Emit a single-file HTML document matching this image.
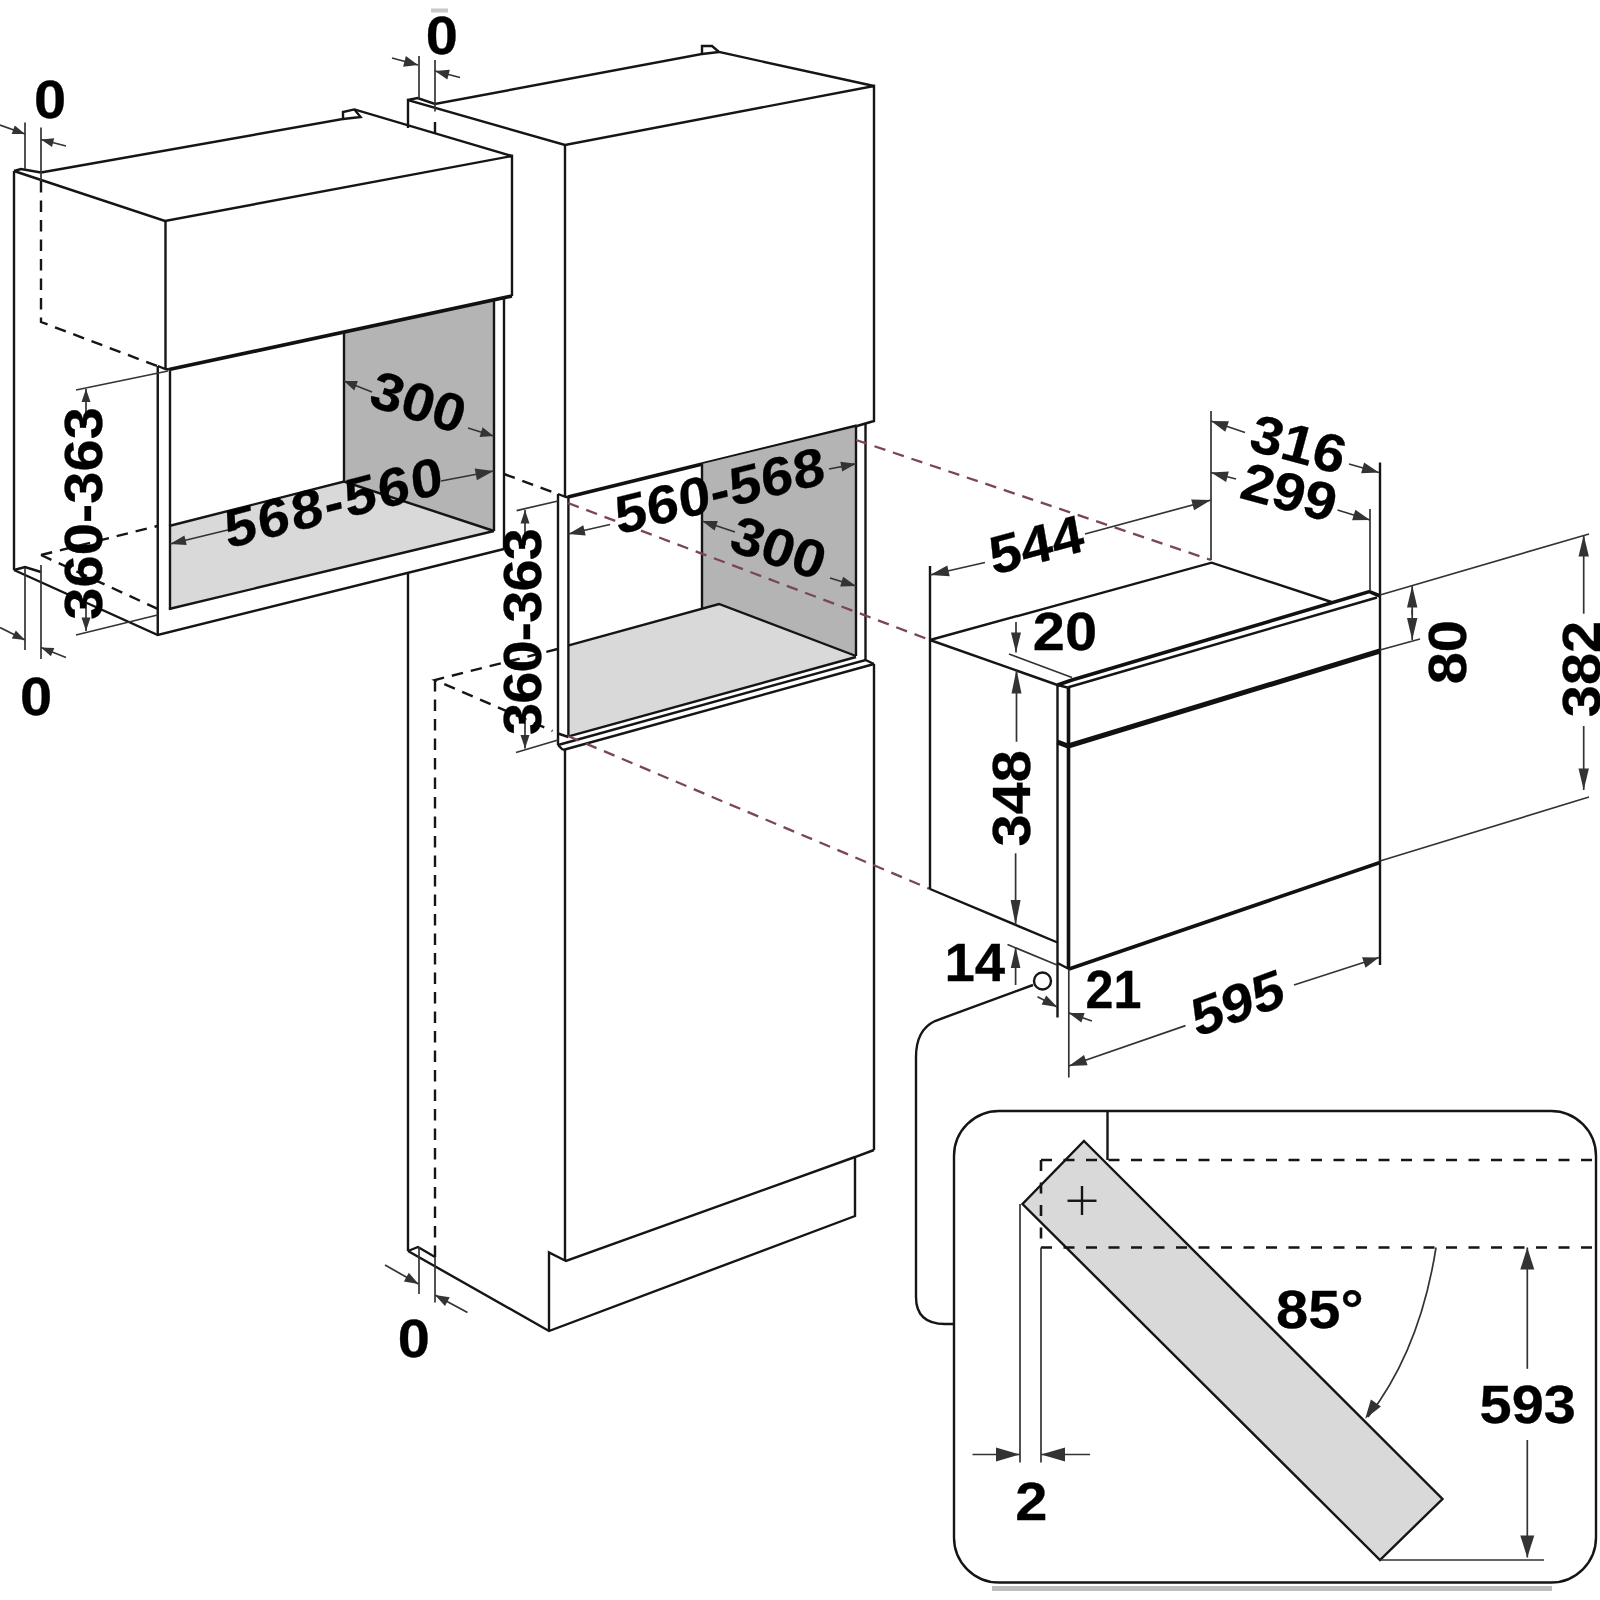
<!DOCTYPE html>
<html><head><meta charset="utf-8"><style>
html,body{margin:0;padding:0;background:#fff;}
svg{display:block;}
text{font-family:"Liberation Sans",sans-serif;font-weight:bold;fill:#000;stroke:#000;stroke-width:0.3;stroke-linejoin:round;}
.k{stroke:#151515;stroke-width:2.4;fill:none;stroke-linejoin:miter;}
.kt{stroke:#111;stroke-width:3.6;fill:none;}
.d{stroke:#333;stroke-width:1.7;fill:none;}
.dash{stroke:#151515;stroke-width:2.4;stroke-dasharray:11.5 8;fill:none;}
.dash2{stroke:#151515;stroke-width:2.6;stroke-dasharray:11 11.5;fill:none;}
.kb{stroke:#111;stroke-width:5;fill:none;}
.red{stroke:#7a4656;stroke-width:2.3;stroke-dasharray:11.5 8;fill:none;}
</style></head><body>
<svg width="1600" height="1600" viewBox="0 0 1600 1600">
<rect width="1600" height="1600" fill="#fff"/>
<polygon points="344,332 494,300 494,531 344,481.5" style="fill:#b4b4b4"/>
<polygon points="169,526 344,481.5 494,531 169,609" style="fill:#d9d9d9"/>
<line x1="14" y1="171" x2="14" y2="570" class="k"/>
<polyline points="14,171 165,221 512,156 512,296" class="k"/>
<polyline points="14,171 21,169 41,172.5" class="k"/>
<polyline points="41,172.5 343,119 343,112 354.4,109.4 512,156" class="k"/>
<polyline points="343,119 360.6,117 354.4,109.4" class="k"/>
<line x1="165.5" y1="221" x2="165.5" y2="369" class="k"/>
<line x1="169" y1="369.5" x2="512" y2="296" class="kt"/>
<line x1="157.75" y1="366" x2="157.75" y2="635" class="k"/>
<polyline points="157.75,366 165.5,369 169,369.5" class="k"/>
<line x1="170" y1="371" x2="170" y2="610" class="k"/>
<line x1="344" y1="332" x2="344" y2="481.5" class="k"/>
<line x1="494" y1="300" x2="494" y2="531" class="k"/>
<line x1="504" y1="298" x2="504" y2="549" class="k"/>
<polyline points="169,526 344,481.5 494,531" class="k"/>
<line x1="169" y1="609" x2="494" y2="531" class="k"/>
<polyline points="14,570 157.75,635 504,549" class="k"/>
<polyline points="14,570 25,567 41,572" class="k"/>
<polyline points="41,181 41,322 157,366" class="dash"/>
<polyline points="41,555 157.5,526" class="dash"/>
<polyline points="41,555 160,610" class="dash"/>
<line x1="25" y1="122.5" x2="25" y2="169" class="d"/>
<line x1="41" y1="127.5" x2="41" y2="181" class="d"/>
<line x1="0" y1="125" x2="25" y2="134" class="d"/>
<polygon points="25.0,134.0 11.7,134.0 14.8,125.5" fill="#333"/>
<line x1="66" y1="146" x2="41" y2="139.5" class="d"/>
<polygon points="41.0,139.5 54.2,138.3 52.0,147.0" fill="#333"/>
<line x1="25" y1="568" x2="25" y2="650" class="d"/>
<line x1="41" y1="565" x2="41" y2="659" class="d"/>
<line x1="0" y1="627.5" x2="25" y2="640" class="d"/>
<polygon points="25.0,640.0 11.8,638.4 15.8,630.4" fill="#333"/>
<line x1="66" y1="657.5" x2="41" y2="647.5" class="d"/>
<polygon points="41.0,647.5 54.3,648.0 50.9,656.3" fill="#333"/>
<line x1="76" y1="390" x2="168" y2="371" class="d"/>
<line x1="76" y1="635" x2="157.5" y2="615" class="d"/>
<line x1="86" y1="425" x2="86" y2="389" class="d"/>
<polygon points="86.0,389.0 90.5,402.0 81.5,402.0" fill="#333"/>
<line x1="86" y1="600" x2="86" y2="631" class="d"/>
<polygon points="86.0,631.0 81.5,617.5 90.5,617.5" fill="#333"/>
<line x1="372" y1="392" x2="344" y2="381" class="d"/>
<polygon points="344.0,381.0 357.9,381.1 354.3,390.4" fill="#333"/>
<line x1="468" y1="428" x2="493.5" y2="436" class="d"/>
<polygon points="493.5,436.0 479.6,436.9 482.6,427.3" fill="#333"/>
<line x1="240" y1="527" x2="170" y2="544" class="d"/>
<polygon points="170.0,544.0 184.4,535.4 186.7,545.1" fill="#333"/>
<line x1="441" y1="481" x2="493.5" y2="471" class="d"/>
<polygon points="493.5,471.0 476.9,480.3 474.7,468.5" fill="#333"/>
<polyline points="408,128 408,100 565,145 874,86 874,421 857,426" class="k"/>
<polyline points="408,100 417.5,98 435,104 702,54 702,46 712,46 719,52 874,86" class="k"/>
<polyline points="702,54 719,52" class="k"/>
<line x1="565" y1="145" x2="565" y2="496" class="k"/>
<line x1="568" y1="497" x2="857" y2="426" class="kt"/>
<line x1="419" y1="56" x2="419" y2="99" class="d"/>
<line x1="435" y1="60" x2="435" y2="111.5" class="d"/>
<line x1="435" y1="122" x2="435" y2="133" class="k"/>
<line x1="392" y1="58" x2="418" y2="65" class="d"/>
<polygon points="418.0,65.0 403.1,66.7 405.9,56.0" fill="#333"/>
<line x1="460" y1="77.5" x2="435" y2="71" class="d"/>
<polygon points="435.0,71.0 449.8,69.7 447.3,79.4" fill="#333"/>
<polygon points="702,464 856,427 856,656 719,604 702,608" style="fill:#b4b4b4"/>
<polygon points="568.7,645.4 719,604 856,656 568.7,736.4" style="fill:#d9d9d9"/>
<line x1="702" y1="464" x2="702" y2="608" class="k"/>
<polyline points="568.7,645.4 719,604 856,656" class="k"/>
<line x1="568.7" y1="736.4" x2="856" y2="657" class="k"/>
<line x1="856" y1="426" x2="856" y2="656" class="k"/>
<line x1="865.5" y1="424" x2="865.5" y2="660" class="k"/>
<polyline points="558,745 865.5,660 874,664" class="k"/>
<line x1="563" y1="750" x2="874" y2="664" class="k"/>
<line x1="558" y1="494" x2="558" y2="745" class="k"/>
<line x1="568.4" y1="497" x2="568.4" y2="736.4" class="k"/>
<polyline points="558,494 566,497 568,497" class="k"/>
<polyline points="558,733.5 568.4,737" class="k"/>
<polyline points="558,745 563,750" class="k"/>
<line x1="874" y1="664" x2="874" y2="1150" class="k"/>
<line x1="565" y1="750" x2="565" y2="1261" class="k"/>
<line x1="408" y1="573" x2="408" y2="1251" class="k"/>
<line x1="504" y1="474" x2="558" y2="494" class="dash"/>
<polyline points="557.5,649 435,680 552.5,731" class="dash"/>
<line x1="435" y1="680" x2="435" y2="1257" class="dash"/>
<line x1="516.6" y1="510.6" x2="558" y2="501" class="d"/>
<line x1="516" y1="752.5" x2="558" y2="740" class="d"/>
<line x1="525" y1="545" x2="525" y2="510" class="d"/>
<polygon points="525.0,510.0 529.5,523.5 520.5,523.5" fill="#333"/>
<line x1="525" y1="712" x2="525" y2="748.6" class="d"/>
<polygon points="525.0,748.6 520.5,735.1 529.5,735.1" fill="#333"/>
<line x1="610" y1="524.5" x2="568.4" y2="534" class="d"/>
<polygon points="568.4,534.0 583.3,525.2 585.7,535.4" fill="#333"/>
<line x1="829" y1="469" x2="856" y2="463.8" class="d"/>
<polygon points="856.0,463.8 842.2,471.5 840.3,461.7" fill="#333"/>
<line x1="735" y1="532" x2="702" y2="521" class="d"/>
<polygon points="702.0,521.0 717.8,521.0 714.6,530.5" fill="#333"/>
<line x1="830" y1="578" x2="856" y2="586" class="d"/>
<polygon points="856.0,586.0 840.2,586.4 843.1,576.8" fill="#333"/>
<polyline points="408,1251 549,1331 855,1216 855,1157 874,1150" class="k"/>
<polyline points="549,1331 549,1252.5 566,1261 855,1157" class="k"/>
<polyline points="408,1251 418,1247 435,1257" class="k"/>
<line x1="419" y1="1247" x2="419" y2="1294" class="d"/>
<line x1="435" y1="1257" x2="435" y2="1302.5" class="d"/>
<line x1="385" y1="1265" x2="418.5" y2="1284" class="d"/>
<polygon points="418.5,1284.0 403.9,1281.4 408.8,1272.7" fill="#333"/>
<line x1="467.5" y1="1312.5" x2="435" y2="1295" class="d"/>
<polygon points="435.0,1295.0 449.7,1297.2 445.0,1306.0" fill="#333"/>
<line x1="856" y1="440" x2="1211" y2="560" class="red"/>
<line x1="568" y1="503" x2="930" y2="640" class="red"/>
<line x1="568" y1="736" x2="930" y2="889" class="red"/>
<line x1="930" y1="566" x2="930" y2="889" class="k"/>
<polyline points="930,640 1211.6,562.7 1333,602.5" class="k"/>
<polyline points="930,640 1057.5,685" class="k"/>
<polyline points="930,889 1057.5,942.5" class="k"/>
<polyline points="1057.5,685 1072,680 1369.4,591.6 1380,596" class="kt"/>
<line x1="1067.5" y1="687.5" x2="1377" y2="597.5" class="k"/>
<line x1="1057.5" y1="685" x2="1067.5" y2="687.5" class="k"/>
<line x1="1057.5" y1="685" x2="1057.5" y2="1017.5" class="k"/>
<line x1="1068.5" y1="687.5" x2="1068.5" y2="969" class="kt"/>
<line x1="1068.8" y1="969" x2="1068.8" y2="1077.5" class="d"/>
<line x1="1380" y1="462.5" x2="1380" y2="965" class="k"/>
<polyline points="1057.3,742 1068.2,746 1380,651" class="kb"/>
<line x1="1069" y1="969" x2="1380" y2="862.5" class="kt"/>
<polyline points="1057.5,963 1069,969" class="k"/>
<line x1="985" y1="562.5" x2="930" y2="575" class="d"/>
<polygon points="930.0,575.0 947.3,565.4 949.7,576.2" fill="#333"/>
<line x1="1085" y1="534" x2="1211" y2="500" class="d"/>
<polygon points="1211.0,500.0 1194.1,510.3 1191.2,499.6" fill="#333"/>
<line x1="1211" y1="411" x2="1211" y2="560" class="d"/>
<line x1="1370" y1="509" x2="1370" y2="591" class="d"/>
<line x1="1245" y1="432.5" x2="1211" y2="421" class="d"/>
<polygon points="1211.0,421.0 1228.9,421.2 1225.3,431.7" fill="#333"/>
<line x1="1349" y1="464" x2="1379" y2="472.5" class="d"/>
<polygon points="1379.0,472.5 1361.1,473.2 1364.1,462.6" fill="#333"/>
<line x1="1236" y1="479" x2="1211" y2="472.5" class="d"/>
<polygon points="1211.0,472.5 1228.8,471.5 1226.1,482.1" fill="#333"/>
<line x1="1337.5" y1="510" x2="1370" y2="520" class="d"/>
<polygon points="1370.0,520.0 1352.1,520.3 1355.4,509.7" fill="#333"/>
<line x1="1009" y1="654" x2="1072" y2="677.5" class="d"/>
<line x1="1016" y1="622" x2="1016" y2="652.5" class="d"/>
<polygon points="1016.0,652.5 1011.0,632.5 1021.0,632.5" fill="#333"/>
<line x1="1016.5" y1="741.7" x2="1016.5" y2="669.5" class="d"/>
<polygon points="1016.5,669.5 1021.5,693.5 1011.5,693.5" fill="#333"/>
<line x1="1015.6" y1="853.3" x2="1015.6" y2="925" class="d"/>
<polygon points="1015.6,925.0 1010.6,900.0 1020.6,900.0" fill="#333"/>
<line x1="1380" y1="595" x2="1589" y2="534" class="d"/>
<line x1="1380" y1="650" x2="1420" y2="639" class="d"/>
<line x1="1380" y1="861" x2="1589" y2="797" class="d"/>
<line x1="1412.2" y1="615" x2="1412.2" y2="585.6" class="d"/>
<polygon points="1412.2,585.6 1417.4,607.6 1407.0,607.6" fill="#333"/>
<line x1="1412.2" y1="610" x2="1412.2" y2="640" class="d"/>
<polygon points="1412.2,640.0 1407.0,618.0 1417.4,618.0" fill="#333"/>
<line x1="1583.7" y1="613.7" x2="1583.7" y2="535" class="d"/>
<polygon points="1583.7,535.0 1588.9,556.5 1578.5,556.5" fill="#333"/>
<line x1="1583.7" y1="726" x2="1583.7" y2="790" class="d"/>
<polygon points="1583.7,790.0 1578.5,768.5 1588.9,768.5" fill="#333"/>
<line x1="1007.5" y1="944.5" x2="1057" y2="965" class="d"/>
<line x1="1015.6" y1="985" x2="1015.6" y2="947" class="d"/>
<polygon points="1015.6,947.0 1020.4,968.0 1010.8,968.0" fill="#333"/>
<circle cx="1042.5" cy="981" r="8.5" class="k" fill="#fff"/>
<line x1="1037.5" y1="996.7" x2="1057.2" y2="1007" class="d"/>
<polygon points="1057.2,1007.0 1041.6,1004.5 1046.2,995.6" fill="#333"/>
<line x1="1091.9" y1="1021" x2="1068.8" y2="1012.9" class="d"/>
<polygon points="1068.8,1012.9 1084.6,1013.1 1081.3,1022.6" fill="#333"/>
<line x1="1185.5" y1="1025.6" x2="1068.8" y2="1066" class="d"/>
<polygon points="1068.8,1066.0 1084.0,1054.9 1087.6,1065.3" fill="#333"/>
<line x1="1294" y1="985" x2="1379" y2="957.5" class="d"/>
<polygon points="1379.0,957.5 1365.5,967.7 1362.1,957.2" fill="#333"/>
<path d="M1033,985 L935,1021 Q916,1030 916,1057 L916,1297 Q916,1324 945,1324 L954,1324" class="k"/>
<rect x="954" y="1111" width="642" height="471.5" rx="45" ry="45" class="k" fill="none"/>
<line x1="1107.5" y1="1111" x2="1107.5" y2="1160" class="k"/>
<polygon points="1084,1141 1442.5,1499 1380,1560 1022.5,1204" style="fill:#d9d9d9" class="k"/>
<line x1="1041" y1="1160" x2="1596" y2="1160" class="dash2"/>
<line x1="1041" y1="1247.5" x2="1596" y2="1247.5" class="dash2"/>
<line x1="1041" y1="1160" x2="1041" y2="1247.5" class="dash2"/>
<line x1="1020" y1="1204" x2="1020" y2="1462.5" class="d"/>
<line x1="1041" y1="1247.5" x2="1041" y2="1462.5" class="d"/>
<line x1="972.5" y1="1454.5" x2="1020" y2="1454.5" class="d"/>
<polygon points="1020.0,1454.5 996.0,1461.5 996.0,1447.5" fill="#333"/>
<line x1="1090" y1="1454.5" x2="1041" y2="1454.5" class="d"/>
<polygon points="1041.0,1454.5 1065.0,1447.5 1065.0,1461.5" fill="#333"/>
<line x1="1067.5" y1="1200.75" x2="1096.5" y2="1200.75" class="k"/>
<line x1="1082" y1="1186" x2="1082" y2="1215" class="k"/>
<path d="M1436,1247.5 Q1420,1350 1368,1417" class="d" fill="none"/>
<polygon points="1365.2,1418.7 1370.9,1399.6 1380.9,1406.4" fill="#333"/>
<line x1="1380" y1="1560" x2="1544" y2="1560" class="d"/>
<line x1="1527.3" y1="1368.8" x2="1527.3" y2="1247.5" class="d"/>
<polygon points="1527.3,1247.5 1534.3,1269.5 1520.3,1269.5" fill="#333"/>
<line x1="1527.3" y1="1440" x2="1527.3" y2="1557.5" class="d"/>
<polygon points="1527.3,1557.5 1520.3,1535.5 1534.3,1535.5" fill="#333"/>
<rect x="431" y="8.5" width="17" height="4" fill="#c8c8c8"/>
<rect x="992" y="1586" width="560" height="5" fill="#bdbdbd"/>
<g transform="translate(50.0,117.5)  scale(1.08,1)"><text x="0" y="0" text-anchor="middle" font-size="53.5">0</text></g>
<g transform="translate(441.8,53.5)  scale(1.08,1)"><text x="0" y="0" text-anchor="middle" font-size="53.5">0</text></g>
<g transform="translate(36.0,714.8)  scale(1.08,1)"><text x="0" y="0" text-anchor="middle" font-size="53.5">0</text></g>
<g transform="translate(413.8,1356.5)  scale(1.08,1)"><text x="0" y="0" text-anchor="middle" font-size="53.5">0</text></g>
<g transform="translate(101.8,513.4) rotate(-90) scale(1.08,1)"><text x="0" y="0" text-anchor="middle" font-size="53.5" letter-spacing="0.1">360-363</text></g>
<g transform="translate(540.5,632.0) rotate(-90) scale(1.08,1)"><text x="0" y="0" text-anchor="middle" font-size="53.5" letter-spacing="-0.8">360-363</text></g>
<g transform="translate(413.0,419.7) rotate(17.3) scale(1.08,1)"><text x="0" y="0" text-anchor="middle" font-size="53.5">300</text></g>
<g transform="translate(336.8,520.5) matrix(0.9686,-0.2487,0.1219,0.9925,0,0) scale(1.08,1)"><text x="0" y="0" text-anchor="middle" font-size="53.5" letter-spacing="1.9">568-560</text></g>
<g transform="translate(722.2,508.8) matrix(0.9707,-0.2402,0.1219,0.9925,0,0) scale(1.08,1)"><text x="0" y="0" text-anchor="middle" font-size="53.5" letter-spacing="0.5">560-568</text></g>
<g transform="translate(772.8,565.2) rotate(18.6) scale(1.08,1)"><text x="0" y="0" text-anchor="middle" font-size="53.5">300</text></g>
<g transform="translate(1039.6,562.8) matrix(0.9659,-0.2588,0.1736,0.9848,0,0) scale(1.08,1)"><text x="0" y="0" text-anchor="middle" font-size="53.5">544</text></g>
<g transform="translate(1293.7,462.0) rotate(15) scale(1.08,1)"><text x="0" y="0" text-anchor="middle" font-size="53.5">316</text></g>
<g transform="translate(1284.6,510.0) rotate(15) scale(1.08,1)"><text x="0" y="0" text-anchor="middle" font-size="53.5">299</text></g>
<g transform="translate(1064.9,650.1)  scale(1.08,1)"><text x="0" y="0" text-anchor="middle" font-size="53.5">20</text></g>
<g transform="translate(1466.3,652.2) rotate(-90) scale(1.08,1)"><text x="0" y="0" text-anchor="middle" font-size="53.5">80</text></g>
<g transform="translate(1600.0,669.0) rotate(-90) scale(1.08,1)"><text x="0" y="0" text-anchor="middle" font-size="53.5">382</text></g>
<g transform="translate(1029.8,798.4) rotate(-90) scale(1.08,1)"><text x="0" y="0" text-anchor="middle" font-size="53.5">348</text></g>
<g transform="translate(974.8,980.5)  scale(1.02,1)"><text x="0" y="0" text-anchor="middle" font-size="53.5">14</text></g>
<g transform="translate(1113.4,1008.2)  scale(0.94,1)"><text x="0" y="0" text-anchor="middle" font-size="53.5">21</text></g>
<g transform="translate(1241.2,1021.0) matrix(0.9403,-0.3404,0.1908,0.9816,0,0) scale(1.08,1)"><text x="0" y="0" text-anchor="middle" font-size="53.5">595</text></g>
<g transform="translate(1319.8,1328.4)  scale(1.08,1)"><text x="0" y="0" text-anchor="middle" font-size="53.5">85°</text></g>
<g transform="translate(1527.7,1423.1)  scale(1.08,1)"><text x="0" y="0" text-anchor="middle" font-size="53.5">593</text></g>
<g transform="translate(1031.2,1520.2)  scale(1.08,1)"><text x="0" y="0" text-anchor="middle" font-size="53.5">2</text></g>
</svg></body></html>
